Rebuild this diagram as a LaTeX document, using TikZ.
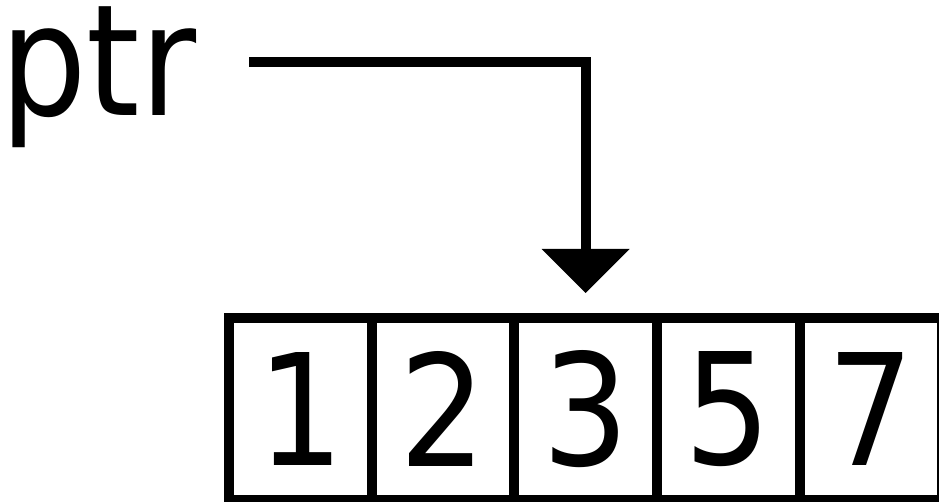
\documentclass[tikz,border=0pt]{standalone}
\usepackage{fontspec}
\setmainfont[FakeStretch=0.88]{DejaVu Sans}
\usetikzlibrary{arrows.meta, positioning}

\begin{document}
\begin{tikzpicture}[x=1pt, y=-1pt]
      \tikzstyle{every node}+=[inner sep=0pt, outer sep=0pt]
      \tikzstyle{cell}=[draw=black, line width=10pt, minimum width=142.6pt,
        minimum height=182pt, font=\fontsize{155}{160}\selectfont]
      \tikzstyle{ptrline}=[draw=black, line width=10pt,
        -{Triangle[width=88pt, length=44pt, line width=0pt]}]
      \useasboundingbox (0,0) rectangle (939,502);
      \node (ptr) [anchor=base west, font=\fontsize{155}{160}\selectfont] at (0,116) {ptr};
      \node (c1) [cell] at (300.5,409) {1};
      \node (c2) [cell, right=0pt of c1] {2};
      \node (c3) [cell, right=0pt of c2] {3};
      \node (c4) [cell, right=0pt of c3] {5};
      \node (c5) [cell, right=0pt of c4] {7};
      \coordinate (start) at (249,62);
      \draw [ptrline, shorten >=25pt] (start) -| (c3.north);
\end{tikzpicture}
\end{document}
